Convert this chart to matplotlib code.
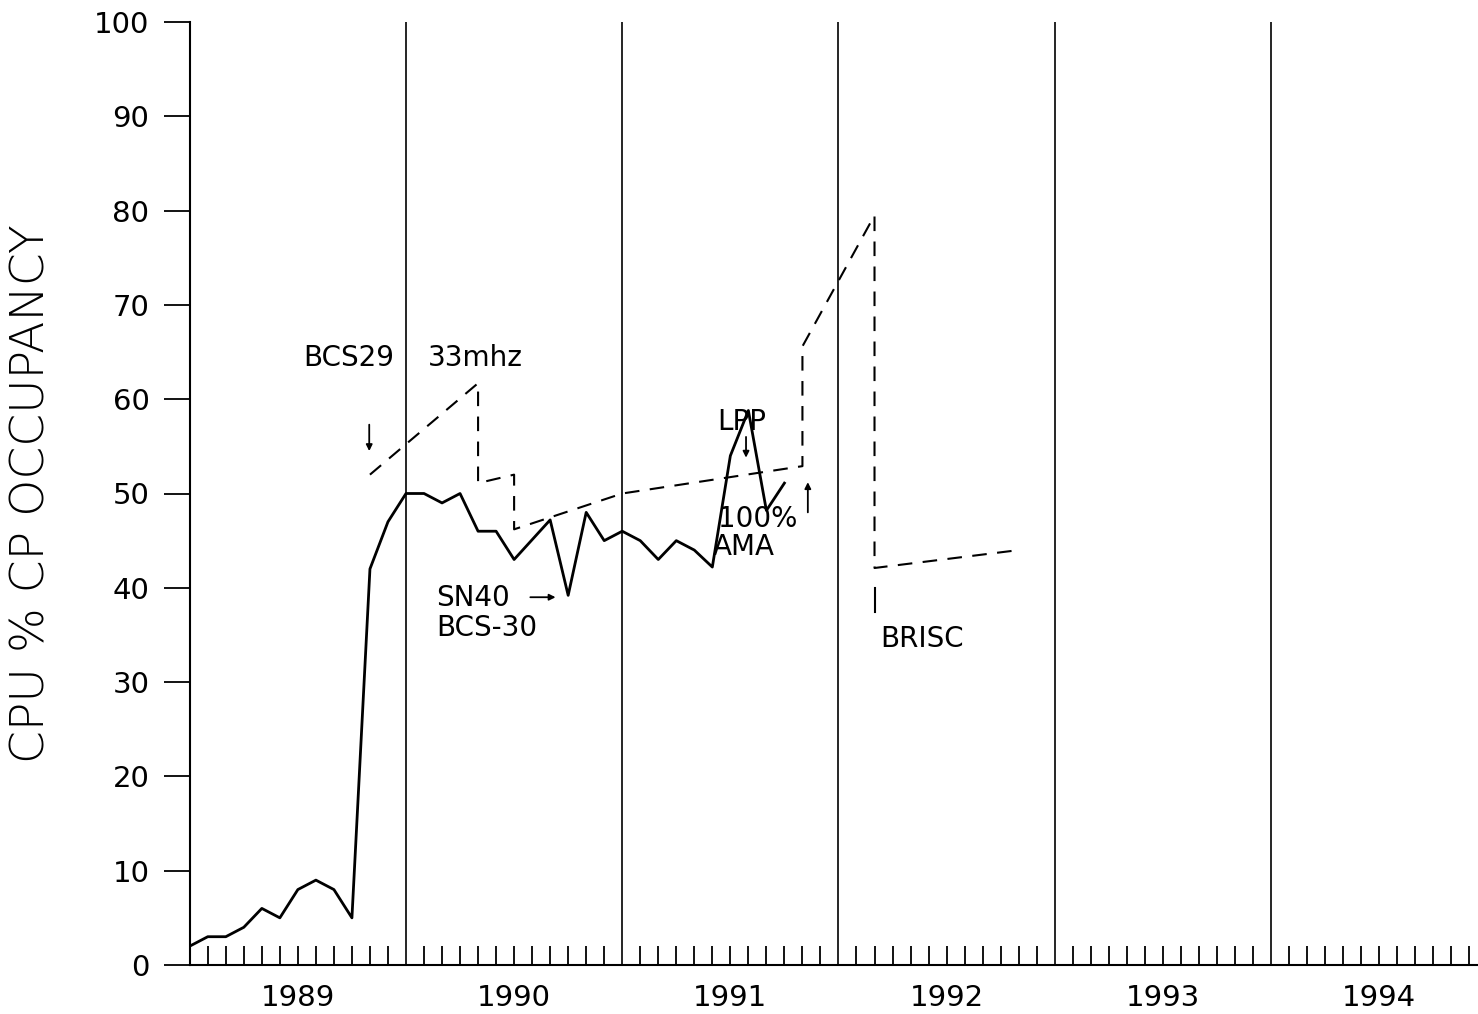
import matplotlib
matplotlib.use("Agg")
import matplotlib.pyplot as plt
import numpy as np

# ---- data ----
years = ["1989", "1990", "1991", "1992", "1993", "1994"]
y_ticks = [0, 10, 20, 30, 40, 50, 60, 70, 80, 90, 100]

# solid series: one value per month starting at month 0
cpu_months = list(range(34))
cpu_values = [2, 3, 3, 4, 6, 5, 8, 9, 8, 5,
              42, 47, 50, 50, 49, 50, 46, 46, 43, 45.1,
              47.2, 39.2, 48, 45, 46, 45, 43, 45, 44, 42.2,
              54, 58.8, 48.2, 51.1]

# dashed projection series (month, value)
proj_months = [10, 16, 16, 18, 18, 24, 34, 34, 38, 38, 46]
proj_values = [52, 61.7, 51.1, 52, 46.2, 50, 52.9, 65.6, 79.5, 42.1, 44]

plt.rcParams['font.family'] = ['DejaVu Sans']

fig = plt.figure(figsize=(14.78, 10.14), dpi=100)
ax = fig.add_axes([189.75 / 1478, 49 / 1014, (72 * 18.02) / 1478, 943 / 1014])

ax.set_xlim(0, 72)
ax.set_ylim(0, 100)

# year separators
for k in range(1, 6):
    ax.axvline(12 * k, color='black', lw=1.2, zorder=1)

ax.plot(cpu_months, cpu_values, color='black', lw=2.0, zorder=3)
ax.plot(proj_months, proj_values, color='black', lw=1.5, ls=(0, (7, 5)), zorder=3)

# spines
for s in ['top', 'right']:
    ax.spines[s].set_visible(False)
ax.spines['left'].set_linewidth(1.5)
ax.spines['bottom'].set_linewidth(1.5)
ax.spines['bottom'].set_clip_on(False)

# y ticks
ax.set_yticks(y_ticks)
ax.set_yticklabels([str(v) for v in y_ticks], fontsize=21)
ax.tick_params(axis='y', direction='out', length=19, width=1.3, pad=10)

# x ticks: monthly ticks inside, year labels under mid-year month
months = [m for m in range(1, 72) if m % 12 != 0]
labels = [years[m // 12] if m % 12 == 6 else "" for m in months]
ax.set_xticks(months)
ax.set_xticklabels(labels, fontsize=21)
ax.tick_params(axis='x', which='major', direction='in', length=14, width=1.3, pad=14)

# y label
fig.text(32 / 1478, 1 - 494 / 1014, "CPU % CP OCCUPANCY", rotation=90,
         fontsize=34, ha='center', va='center', fontweight='light')

fs = 20
ax.text(6.3, 64.4, "BCS29", fontsize=fs, va='center', ha='left')
ax.text(13.2, 64.4, "33mhz", fontsize=fs, va='center', ha='left')
ax.text(13.7, 38.9, "SN40", fontsize=fs, va='center', ha='left')
ax.text(13.7, 35.7, "BCS-30", fontsize=fs, va='center', ha='left')
ax.text(29.3, 57.6, "LPP", fontsize=fs, va='center', ha='left')
ax.text(29.3, 47.3, "100%", fontsize=fs, va='center', ha='left')
ax.text(29.0, 44.3, "AMA", fontsize=fs, va='center', ha='left')
ax.text(38.3, 34.6, "BRISC", fontsize=fs, va='center', ha='left')

arrow = dict(arrowstyle='-|>', color='black', lw=1.3, mutation_scale=9, shrinkA=0, shrinkB=0)
ax.annotate("", xy=(9.96, 54.5), xytext=(9.96, 57.3), arrowprops=arrow)
ax.annotate("", xy=(30.87, 53.8), xytext=(30.87, 56.0), arrowprops=arrow)
ax.annotate("", xy=(34.3, 51.2), xytext=(34.3, 48.0), arrowprops=arrow)
ax.annotate("", xy=(20.3, 39.0), xytext=(18.9, 39.0), arrowprops=arrow)
ax.plot([38.0, 38.0], [37.4, 40.0], color='black', lw=1.5)

fig.savefig("out.png", dpi=100, facecolor='white')
